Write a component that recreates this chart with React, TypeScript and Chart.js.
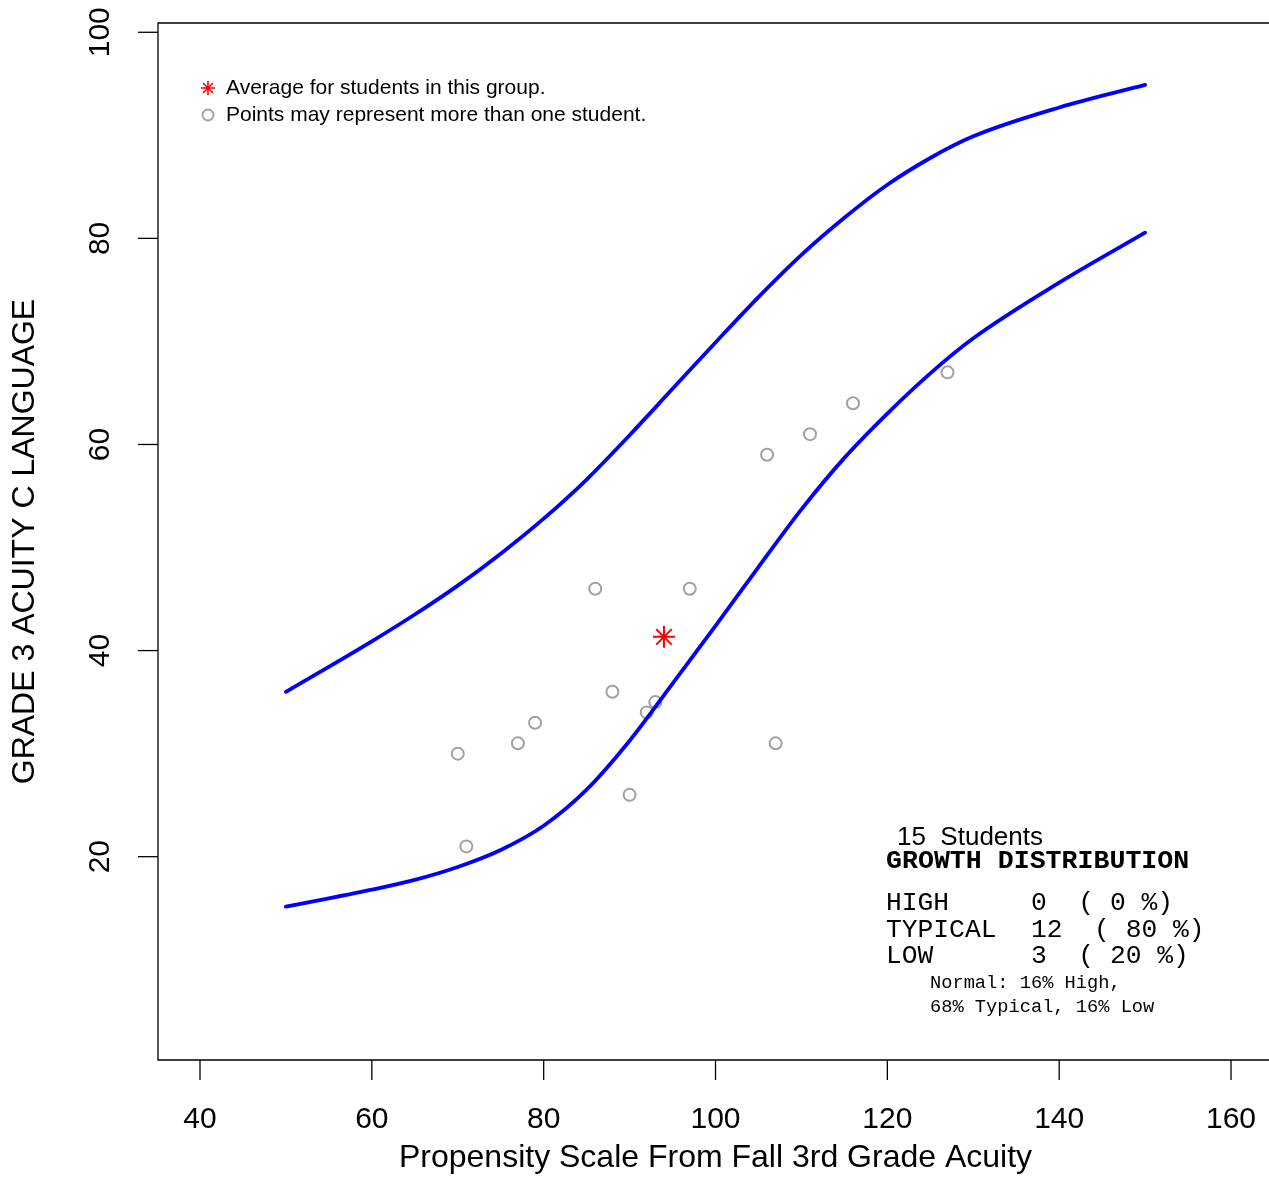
import React, { useEffect, useRef } from "react";
import { Chart, registerables } from "chart.js";

Chart.register(...registerables);

// ---- data ----
const studentX = [70, 71, 77, 79, 86, 88, 90, 92, 93, 97, 106, 107, 111, 116, 127];
const studentY = [30, 21, 31, 33, 46, 36, 26, 34, 35, 46, 59, 31, 61, 64, 67];
const averageX = [94];
const averageY = [41.33];
const curveX = [50, 60, 65, 70, 75, 80, 85, 90, 95, 100, 105, 110, 115, 120, 125, 130, 140, 150];
const upperY = [36.0, 40.9, 43.5, 46.3, 49.4, 52.8, 56.6, 60.9, 65.4, 69.9, 74.3, 78.4, 82.0, 85.2, 87.8, 89.9, 92.7, 94.9];
const lowerY = [15.15, 16.8, 17.75, 19.0, 20.65, 23.0, 26.5, 31.25, 36.8, 42.4, 48.1, 53.7, 58.7, 63.0, 66.9, 70.3, 75.7, 80.55];
const xTicks = [40, 60, 80, 100, 120, 140, 160];
const yTicks = [20, 40, 60, 80, 100];
const legendLabels = ["Average for students in this group.", "Points may represent more than one student."];
const studentCount = 15;
const distLabels = ["HIGH", "TYPICAL", "LOW"];
const distCounts = [0, 12, 3];
const distPcts = [0, 80, 20];
const normalLines = ["Normal: 16% High,", "68% Typical, 16% Low"];
const xTitle = "Propensity Scale From Fall 3rd Grade Acuity";
const yTitle = "GRADE 3 ACUITY C LANGUAGE";

const SANS = '"Liberation Sans", Arial, sans-serif';
const MONO = '"Liberation Mono", "Courier New", monospace';

const decorPlugin = {
  id: "decor",
  afterDraw(chart: any) {
    const ctx = chart.ctx as CanvasRenderingContext2D;
    const { left, right, top, bottom } = chart.chartArea;
    const xs = chart.scales.x;
    const ys = chart.scales.y;
    ctx.save();
    // box (left, top, bottom)
    ctx.strokeStyle = "#000";
    ctx.lineWidth = 1.3;
    ctx.beginPath();
    ctx.moveTo(right + 5, top);
    ctx.lineTo(left, top);
    ctx.lineTo(left, bottom);
    ctx.lineTo(right + 5, bottom);
    ctx.stroke();

    // x ticks
    ctx.fillStyle = "#000";
    ctx.font = `30px ${SANS}`;
    ctx.textAlign = "center";
    ctx.textBaseline = "middle";
    xTicks.forEach((v) => {
      const px = xs.getPixelForValue(v);
      ctx.beginPath();
      ctx.moveTo(px, bottom);
      ctx.lineTo(px, bottom + 20);
      ctx.stroke();
      ctx.fillText(String(v), px, 1120);
    });
    // y ticks
    yTicks.forEach((v) => {
      const py = ys.getPixelForValue(v);
      ctx.beginPath();
      ctx.moveTo(left, py);
      ctx.lineTo(left - 20, py);
      ctx.stroke();
      ctx.save();
      ctx.translate(101, py);
      ctx.rotate(-Math.PI / 2);
      ctx.fillText(String(v), 0, 0);
      ctx.restore();
    });
    // titles
    ctx.font = `32px ${SANS}`;
    ctx.fillText(xTitle, xs.getPixelForValue(100), 1158);
    ctx.save();
    ctx.translate(25, (top + bottom) / 2);
    ctx.rotate(-Math.PI / 2);
    ctx.fillText(yTitle, 0, 0);
    ctx.restore();

    // legend
    ctx.textAlign = "left";
    ctx.textBaseline = "alphabetic";
    ctx.font = `21px ${SANS}`;
    ctx.fillText(legendLabels[0], 226, 94);
    ctx.fillText(legendLabels[1], 226, 121);
    // legend star
    ctx.strokeStyle = "#FF0000";
    ctx.lineWidth = 1.6;
    const sx = 208, sy = 88, sr = 7;
    ctx.beginPath();
    for (let i = 0; i < 4; i++) {
      const a = (i * Math.PI) / 4;
      ctx.moveTo(sx - sr * Math.cos(a), sy - sr * Math.sin(a));
      ctx.lineTo(sx + sr * Math.cos(a), sy + sr * Math.sin(a));
    }
    ctx.stroke();
    ctx.strokeStyle = "#A0A0A0";
    ctx.lineWidth = 1.8;
    ctx.beginPath();
    ctx.arc(208, 115, 5.5, 0, Math.PI * 2);
    ctx.stroke();

    // stats box
    ctx.fillStyle = "#000";
    ctx.font = `26px ${SANS}`;
    ctx.fillText(`${studentCount}  Students`, 897, 845);
    ctx.font = `bold 26.6px ${MONO}`;
    ctx.fillText("GROWTH DISTRIBUTION", 886, 868);
    ctx.font = `26.3px ${MONO}`;
    const rowY = [910, 937, 963];
    distLabels.forEach((lab, i) => {
      ctx.fillText(lab, 886, rowY[i]);
      ctx.fillText(`${distCounts[i]}  ( ${distPcts[i]} %)`, 1031, rowY[i]);
    });
    ctx.font = `18.7px ${MONO}`;
    ctx.fillText(normalLines[0], 930, 988);
    ctx.fillText(normalLines[1], 930, 1012);
    ctx.restore();
  },
};

export default function App() {
  const ref = useRef<HTMLCanvasElement | null>(null);
  useEffect(() => {
    if (!ref.current) return;
    const lineData = (ys: number[]) => curveX.map((x, i) => ({ x, y: ys[i] }));
    const lineStyle = {
      showLine: true,
      borderColor: "#0000FF",
      borderWidth: 3.8,
      pointRadius: 0,
      pointHoverRadius: 0,
      cubicInterpolationMode: "monotone",
      borderCapStyle: "round",
    };
    const chart = new Chart(ref.current, {
      type: "scatter",
      data: {
        datasets: [
          { label: "upper", data: lineData(upperY), ...lineStyle } as any,
          { label: "lower", data: lineData(lowerY), ...lineStyle } as any,
          {
            label: "students",
            data: studentX.map((x, i) => ({ x, y: studentY[i] })),
            pointStyle: "circle",
            pointRadius: 6,
            borderColor: "#A0A0A0",
            backgroundColor: "rgba(0,0,0,0)",
            borderWidth: 2,
          },
          {
            label: "average",
            data: averageX.map((x, i) => ({ x, y: averageY[i] })),
            pointStyle: "star",
            pointRadius: 11,
            borderColor: "#FF0000",
            backgroundColor: "#FF0000",
            borderWidth: 2,
          },
        ],
      },
      options: {
        animation: false,
        responsive: false,
        events: [],
        layout: { autoPadding: false, padding: { left: 158, top: 23, right: 0, bottom: 118 } },
        plugins: { legend: { display: false }, tooltip: { enabled: false } },
        scales: {
          x: { type: "linear", display: false, min: 35.112, max: 164.42 },
          y: { type: "linear", display: false, min: 0.27, max: 100.9 },
        },
      },
      plugins: [decorPlugin],
    });
    return () => chart.destroy();
  }, []);
  return (
    <div style={{ position: "absolute", left: 0, top: 0, width: 1269, height: 1178, background: "#fff" }}>
      <canvas ref={ref} width={1269} height={1178} style={{ display: "block" }} />
    </div>
  );
}
